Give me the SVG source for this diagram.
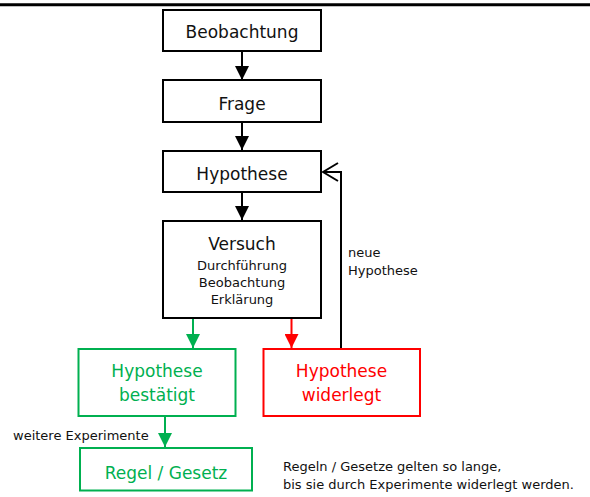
<svg xmlns="http://www.w3.org/2000/svg" width="590" height="497" viewBox="0 0 590 497">
<style>
  text { font-family: "DejaVu Sans", Verdana, sans-serif; }
  .box { fill: #fff; stroke: #000; stroke-width: 2; }
  .gbox { fill: #fff; stroke: #00B050; stroke-width: 2; }
  .rbox { fill: #fff; stroke: #FF0000; stroke-width: 2; }
  .big { font-size: 17px; text-anchor: middle; fill: #111; }
  .mid { font-size: 13px; text-anchor: middle; fill: #111; }
  .small { font-size: 13px; fill: #111; }
  .g { fill: #00B050; }
  .r { fill: #FF0000; }
  .k { stroke: #000; stroke-width: 2; fill: none; }
  .kg { stroke: #00B050; stroke-width: 2; fill: none; }
  .kr { stroke: #FF0000; stroke-width: 2; fill: none; }
</style>
<defs>
  <marker id="ak" markerWidth="14" markerHeight="14" viewBox="0 0 14 14" refX="14" refY="7" orient="auto" markerUnits="userSpaceOnUse">
    <path d="M0,0 L14,7 L0,14 Z" fill="#000"/>
  </marker>
  <marker id="ag" markerWidth="14" markerHeight="14" viewBox="0 0 14 14" refX="14" refY="7" orient="auto" markerUnits="userSpaceOnUse">
    <path d="M0,0 L14,7 L0,14 Z" fill="#00B050"/>
  </marker>
  <marker id="ar" markerWidth="14" markerHeight="14" viewBox="0 0 14 14" refX="14" refY="7" orient="auto" markerUnits="userSpaceOnUse">
    <path d="M0,0 L14,7 L0,14 Z" fill="#FF0000"/>
  </marker>
  <marker id="open" markerWidth="18" markerHeight="22" viewBox="0 0 18 22" refX="17" refY="11" orient="auto" markerUnits="userSpaceOnUse">
    <path d="M2,2 L17,11 L2,20" fill="none" stroke="#000" stroke-width="2"/>
  </marker>
</defs>
<rect x="0" y="0" width="590" height="497" fill="#fff"/>
<line x1="0" y1="4.7" x2="590" y2="4.7" stroke="#000" stroke-width="3"/>

<g id="connectors">
  <line class="k" x1="242" y1="52" x2="242" y2="80" marker-end="url(#ak)"/>
  <line class="k" x1="242" y1="123" x2="242" y2="150" marker-end="url(#ak)"/>
  <line class="k" x1="242" y1="193" x2="242" y2="220" marker-end="url(#ak)"/>
  <line class="kg" x1="193" y1="319" x2="193" y2="348" marker-end="url(#ag)"/>
  <line class="kr" x1="291.5" y1="319" x2="291.5" y2="348" marker-end="url(#ar)"/>
  <polyline class="k" points="341,348 341,172 323,172" marker-end="url(#open)"/>
  <line class="kg" x1="165" y1="417" x2="165" y2="447" marker-end="url(#ag)"/>
  <text class="small" x="348" y="257">neue</text>
  <text class="small" x="348" y="275">Hypothese</text>
  <text class="small" x="13" y="439.5">weitere Experimente</text>
</g>

<g id="beobachtung">
  <rect class="box" x="163" y="10" width="158" height="41"/>
  <text class="big" x="242" y="37.5">Beobachtung</text>
</g>
<g id="frage">
  <rect class="box" x="163" y="80" width="158" height="42"/>
  <text class="big" x="242" y="110">Frage</text>
</g>
<g id="hypothese">
  <rect class="box" x="163" y="151" width="158" height="41"/>
  <text class="big" x="242" y="180">Hypothese</text>
</g>
<g id="versuch">
  <rect class="box" x="163" y="221" width="158" height="97"/>
  <text class="big" x="242" y="249.5">Versuch</text>
  <text class="mid" x="242" y="270">Durchführung</text>
  <text class="mid" x="242" y="287">Beobachtung</text>
  <text class="mid" x="242" y="304">Erklärung</text>
</g>
<g id="bestaetigt">
  <rect class="gbox" x="78.5" y="349" width="157" height="67"/>
  <text class="big g" x="157" y="377">Hypothese</text>
  <text class="big g" x="157" y="401">bestätigt</text>
</g>
<g id="widerlegt">
  <rect class="rbox" x="263.5" y="349" width="156.5" height="67"/>
  <text class="big r" x="341.5" y="377">Hypothese</text>
  <text class="big r" x="341.5" y="401">widerlegt</text>
</g>
<g id="regel">
  <rect class="gbox" x="80" y="448" width="172" height="42.5"/>
  <text class="big g" x="166" y="479">Regel / Gesetz</text>
</g>
<g id="note">
  <text class="small" x="283" y="470.5">Regeln / Gesetze gelten so lange,</text>
  <text class="small" x="283" y="488.5">bis sie durch Experimente widerlegt werden.</text>
</g>
</svg>
